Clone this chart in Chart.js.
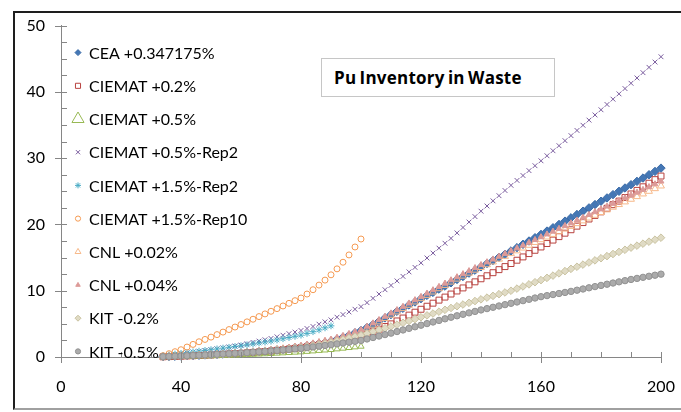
<!DOCTYPE html>
<html>
<head>
<meta charset="utf-8">
<script src="https://cdn.jsdelivr.net/npm/chart.js@4.4.1/dist/chart.umd.min.js"></script>
<style>
  body { margin: 0; background: #fff; }
  #wrap { position: relative; width: 681px; height: 412px; overflow: hidden; }
  #frame { position: absolute; left: 13px; top: 11px; width: 700px; height: 395px;
           border-top: 2px solid #1e1e1e; border-left: 2px solid #1e1e1e; border-bottom: 2px solid #a0a0a0; }
  #chart { position: absolute; left: 0; top: 0; }
  #title { position: absolute; left: 321px; top: 58px; width: 234px; height: 39px; box-sizing: border-box;
           border: 1px solid #c6c6c6; background: #fff; font: bold 17px "Open Sans", sans-serif; line-height: 37px;
           padding-left: 12px; color: #000; letter-spacing: 0.25px; word-spacing: -1.5px; white-space: nowrap; }
</style>
</head>
<body>
<div id="wrap">
  <div id="frame"></div>
  <canvas id="chart" width="681" height="412"></canvas>
  <div id="title">Pu Inventory in Waste</div>
</div>
<script>
// years on the x axis (one marker every two years)
const years = [34,36,38,40,42,44,46,48,50,52,54,56,58,60,62,64,66,68,70,72,74,76,78,80,82,84,86,88,90,92,94,96,98,100,
  102,104,106,108,110,112,114,116,118,120,122,124,126,128,130,132,134,136,138,140,142,144,146,148,150,
  152,154,156,158,160,162,164,166,168,170,172,174,176,178,180,182,184,186,188,190,192,194,196,198,200];

const seriesNames = ["CEA +0.347175%", "CIEMAT +0.2%", "CIEMAT +0.5%", "CIEMAT +0.5%-Rep2", "CIEMAT +1.5%-Rep2",
  "CIEMAT +1.5%-Rep10", "CNL +0.02%", "CNL +0.04%", "KIT -0.2%", "KIT -0.5%"];

const cea = [0.05,0.08,0.12,0.15,0.19,0.23,0.27,0.31,0.35,0.4,0.45,0.5,0.55,0.6,0.67,0.74,0.81,0.88,0.95,1.06,1.17,1.28,1.39,1.5,
  1.68,1.86,2.04,2.22,2.4,2.7,3.0,3.3,3.65,4.0,4.45,4.9,5.4,5.9,6.4,6.9,7.35,7.85,8.3,8.8,9.3,9.75,10.25,10.7,11.2,
  11.7,12.15,12.65,13.1,13.6,14.1,14.55,15.05,15.5,16.0,16.5,17.0,17.5,18.0,18.5,19.0,19.5,20.0,20.5,21.0,
  21.5,22.0,22.5,23.0,23.5,24.0,24.5,25.0,25.5,26.0,26.5,27.0,27.5,28.0,28.5];

const ciemat02 = [0.03,0.06,0.09,0.12,0.16,0.19,0.23,0.26,0.3,0.35,0.4,0.45,0.5,0.55,0.62,0.69,0.76,0.83,0.9,1.0,1.1,1.2,1.3,1.4,
  1.54,1.68,1.82,1.96,2.1,2.26,2.44,2.62,2.8,3.0,3.4,3.8,4.2,4.6,5.0,5.44,5.88,6.32,6.76,7.2,7.66,8.12,8.58,9.04,9.5,
  9.96,10.42,10.88,11.34,11.8,12.26,12.72,13.18,13.64,14.1,14.6,15.1,15.6,16.1,16.6,17.12,17.64,18.16,18.68,19.2,
  19.74,20.28,20.82,21.36,21.9,22.44,22.98,23.52,24.06,24.6,25.14,25.68,26.22,26.76,27.3];

const ciemat05 = [0,0.02,0.03,0.05,0.07,0.09,0.11,0.13,0.15,0.18,0.21,0.24,0.27,0.3,0.34,0.38,0.42,0.46,0.5,0.55,0.6,0.65,0.7,0.75,
  0.82,0.89,0.96,1.03,1.1,1.2,1.3,1.4,1.5,1.6];

const ciemat05rep2 = [0.2,0.3,0.4,0.5,0.62,0.74,0.86,0.98,1.1,1.24,1.38,1.52,1.66,1.8,2.0,2.2,2.4,2.6,2.8,3.04,3.28,3.52,3.76,4.0,
  4.3,4.6,4.95,5.3,5.6,6.0,6.4,6.8,7.2,7.6,8.2,8.85,9.5,10.15,10.8,11.48,12.16,12.84,13.52,14.2,14.94,15.68,16.42,17.16,17.9,
  18.72,19.54,20.36,21.18,22.0,22.78,23.56,24.34,25.12,25.9,26.64,27.38,28.12,28.86,29.6,30.36,31.12,31.88,32.64,33.4,
  34.18,34.96,35.74,36.52,37.3,38.1,38.9,39.7,40.5,41.3,42.1,42.9,43.7,44.5,45.3];

const ciemat15rep2 = [0.2,0.32,0.44,0.55,0.66,0.77,0.88,0.99,1.1,1.22,1.34,1.46,1.58,1.7,1.84,1.98,2.12,2.26,2.4,2.58,2.76,2.94,3.12,3.3,
  3.56,3.82,4.1,4.4,4.7];

const ciemat15rep10 = [0.2,0.5,0.8,1.1,1.5,1.9,2.3,2.65,3.0,3.38,3.76,4.14,4.52,4.9,5.3,5.7,6.1,6.5,6.9,7.3,7.7,8.1,8.5,8.9,
  9.5,10.15,10.85,11.6,12.4,13.3,14.3,15.4,16.6,17.8];

const cnl002 = [0.05,0.08,0.12,0.15,0.19,0.23,0.27,0.31,0.35,0.4,0.46,0.51,0.57,0.62,0.7,0.77,0.85,0.92,1.0,1.12,1.24,1.36,1.48,1.6,
  1.78,1.96,2.14,2.32,2.5,2.75,3.0,3.3,3.6,3.9,4.35,4.8,5.3,5.8,6.3,6.8,7.3,7.8,8.3,8.8,9.3,9.8,10.3,10.8,11.3,
  11.75,12.2,12.65,13.1,13.5,13.92,14.34,14.76,15.18,15.6,16.02,16.44,16.86,17.28,17.7,18.1,18.5,18.9,19.3,19.7,
  20.12,20.54,20.96,21.38,21.8,22.2,22.6,23.0,23.4,23.8,24.2,24.6,25.0,25.4,25.8];

const cnl004 = [0.05,0.08,0.12,0.15,0.19,0.24,0.28,0.33,0.37,0.43,0.48,0.54,0.59,0.65,0.73,0.81,0.89,0.97,1.05,1.18,1.31,1.44,1.57,1.7,
  1.89,2.08,2.27,2.46,2.65,2.92,3.2,3.5,3.8,4.1,4.6,5.1,5.6,6.1,6.6,7.1,7.6,8.1,8.6,9.1,9.6,10.1,10.6,11.1,11.6,
  12.06,12.52,12.98,13.44,13.9,14.32,14.74,15.16,15.58,16.0,16.42,16.84,17.26,17.68,18.1,18.52,18.94,19.36,19.78,20.2,
  20.62,21.04,21.46,21.88,22.3,22.72,23.14,23.56,23.98,24.4,24.82,25.24,25.66,26.08,26.5];

const kit02 = [0.05,0.08,0.12,0.15,0.19,0.23,0.27,0.31,0.35,0.4,0.45,0.5,0.55,0.6,0.67,0.74,0.81,0.88,0.95,1.04,1.13,1.22,1.31,1.4,
  1.56,1.72,1.88,2.04,2.2,2.42,2.64,2.86,3.08,3.3,3.56,3.82,4.08,4.34,4.6,4.88,5.16,5.44,5.72,6.0,6.28,6.56,6.84,7.12,7.4,
  7.66,7.92,8.18,8.44,8.7,8.96,9.22,9.48,9.74,10.0,10.32,10.64,10.96,11.28,11.6,11.94,12.28,12.62,12.96,13.3,
  13.62,13.94,14.26,14.58,14.9,15.22,15.54,15.86,16.18,16.5,16.8,17.1,17.4,17.7,18.0];

const kit05 = [0.05,0.08,0.12,0.15,0.19,0.23,0.27,0.31,0.35,0.4,0.45,0.5,0.55,0.6,0.66,0.72,0.78,0.84,0.9,0.98,1.06,1.14,1.22,1.3,
  1.41,1.52,1.63,1.74,1.85,1.98,2.11,2.24,2.37,2.5,2.72,2.94,3.16,3.38,3.6,3.84,4.08,4.32,4.56,4.8,5.04,5.28,5.52,5.76,6.0,
  6.22,6.44,6.66,6.88,7.1,7.3,7.5,7.7,7.9,8.1,8.3,8.5,8.7,8.9,9.1,9.26,9.42,9.58,9.74,9.9,
  10.08,10.26,10.44,10.62,10.8,10.98,11.16,11.34,11.52,11.7,11.86,12.02,12.18,12.34,12.5];

const xTicksMajor = [0, 40, 80, 120, 160, 200];
const yTicksMajor = [0, 10, 20, 30, 40, 50];

function pts(vals) {
  return vals.map((v, i) => ({ x: years[i], y: v }));
}

const NONE = "rgba(0,0,0,0)";
const styles = [
  { data: cea,           shape: "rectRot",  fill: "#4477b5", line: "#3a6aa6", r: 4.2, lr: 3 },
  { data: ciemat02,      shape: "rect",     fill: NONE,      line: "#b8423f", r: 4.2, lr: 3.6 },
  { data: ciemat05,      shape: "triangle", fill: NONE,      line: "#98b954", r: 3.6, lr: 7 },
  { data: ciemat05rep2,  shape: "crossRot", fill: NONE,      line: "#7a5c9e", r: 3.4, lr: 3 },
  { data: ciemat15rep2,  shape: "star",     fill: NONE,      line: "#4aacc5", r: 3.4, lr: 3 },
  { data: ciemat15rep10, shape: "circle",   fill: NONE,      line: "#f59a52", r: 3, lr: 2.6 },
  { data: cnl002,        shape: "triangle", fill: NONE,      line: "#f7b98a", r: 4, lr: 3.4 },
  { data: cnl004,        shape: "triangle", fill: "#dc9a98", line: "#dc9a98", r: 3.4, lr: 2.6 },
  { data: kit02,         shape: "rectRot",  fill: "#e0dbc5", line: "#c9c2a0", r: 3.8, lr: 3 },
  { data: kit05,         shape: "circle",   fill: "#ababab", line: "#929292", r: 3.2, lr: 2.6 }
];

const datasets = styles.map((s, i) => ({
  label: seriesNames[i],
  data: pts(s.data),
  showLine: false,
  pointStyle: s.shape,
  pointRadius: s.r,
  legendRadius: s.lr,
  pointBorderWidth: 1,
  pointBackgroundColor: s.fill,
  pointBorderColor: s.line,
  backgroundColor: s.fill,
  borderColor: s.line,
  order: styles.length - i,
  clip: false
}));

// legend drawn inside the plot, at the left, like the original
const insideLegend = {
  id: "insideLegend",
  afterDraw(chart) {
    const ctx = chart.ctx;
    const area = chart.chartArea;
    chart.data.datasets.forEach((ds, i) => {
      const cx = area.left + 17;
      const cy = area.top + 27 + i * 33.2;
      ctx.save();
      ctx.fillStyle = ds.backgroundColor;
      ctx.strokeStyle = ds.borderColor;
      ctx.lineWidth = 1;
      Chart.helpers.drawPoint(ctx, { pointStyle: ds.pointStyle, radius: ds.legendRadius, rotation: 0, borderWidth: 1 }, cx, cy);
      ctx.fillStyle = "#000";
      ctx.font = "16px Lato";
      ctx.textBaseline = "middle";
      ctx.fillText(ds.label, cx + 11, cy + 1);
      ctx.restore();
    });
  }
};

// Excel-like tick marks: majors cross the axis, minors inside
const crossTicks = {
  id: "crossTicks",
  afterDraw(chart) {
    const { ctx, scales: { x, y } } = chart;
    ctx.save();
    ctx.strokeStyle = "#868686";
    ctx.lineWidth = 1;
    ctx.beginPath();
    for (let v = 0; v <= 200; v += 10) {
      const px = Math.round(x.getPixelForValue(v)) + 0.5;
      const major = xTicksMajor.includes(v);
      ctx.moveTo(px, y.bottom - 5);
      ctx.lineTo(px, y.bottom + (major ? 6 : 0));
    }
    for (let v = 0; v <= 50; v += 2.5) {
      const py = Math.round(y.getPixelForValue(v)) + 0.5;
      const major = yTicksMajor.includes(v);
      ctx.moveTo(x.left + 6, py);
      ctx.lineTo(x.left - (major ? 6 : 0), py);
    }
    ctx.stroke();
    ctx.restore();
  }
};

const tickFont = { family: "Lato", size: 16 };

new Chart(document.getElementById("chart"), {
  type: "scatter",
  data: { datasets },
  options: {
    responsive: false,
    animation: false,
    layout: { padding: { left: 13, top: 24, right: 20, bottom: 10 } },
    plugins: { legend: { display: false }, tooltip: { enabled: false } },
    scales: {
      x: {
        type: "linear", min: 0, max: 200,
        afterBuildTicks(s) { s.ticks = xTicksMajor.map(v => ({ value: v })); },
        ticks: { padding: 20, color: "#000", font: tickFont },
        grid: { display: false, drawTicks: false },
        border: { display: true, color: "#868686", width: 1 },
        afterFit(s) { s.height = 45; s.paddingLeft = 0; s.paddingRight = 12; }
      },
      y: {
        type: "linear", min: 0, max: 50,
        afterBuildTicks(s) { s.ticks = yTicksMajor.map(v => ({ value: v })); },
        ticks: { padding: 16, color: "#000", font: tickFont },
        grid: { display: false, drawTicks: false },
        border: { display: true, color: "#868686", width: 1 },
        afterFit(s) { s.width = 48; }
      }
    }
  },
  plugins: [crossTicks, insideLegend]
});
</script>
</body>
</html>
